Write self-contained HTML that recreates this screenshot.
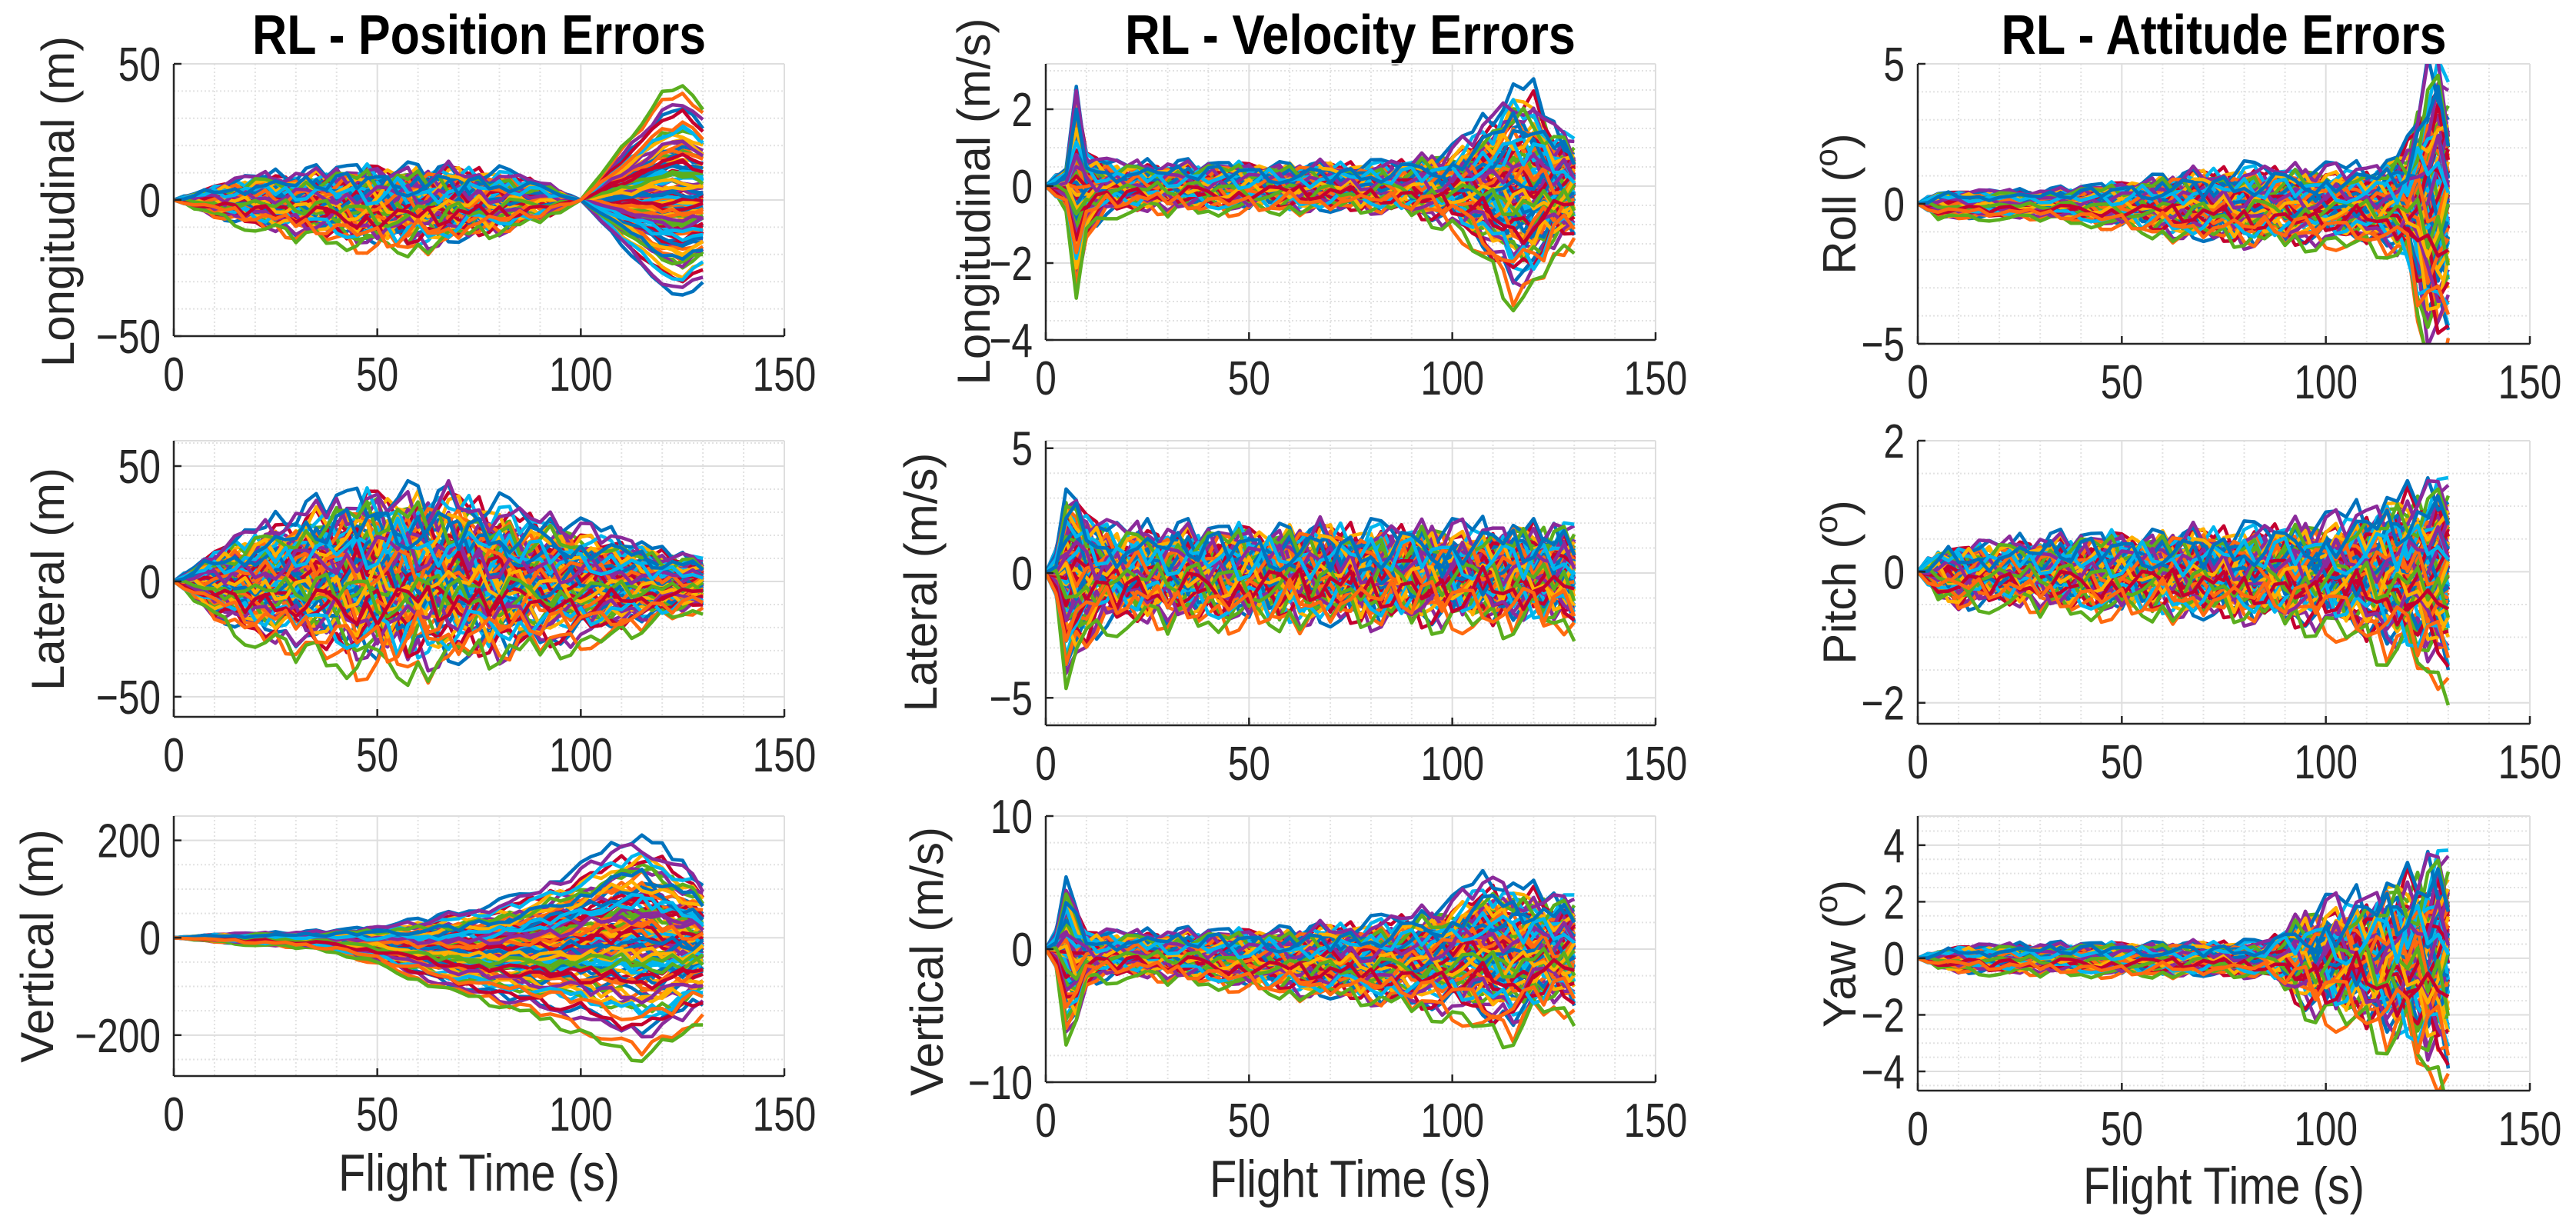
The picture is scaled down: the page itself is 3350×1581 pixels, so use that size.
<!DOCTYPE html>
<html><head><meta charset="utf-8"><title>RL Errors</title>
<style>
html,body{margin:0;padding:0;background:#fff;}
svg{display:block;}
text{font-family:"Liberation Sans",Arial,sans-serif;fill:#262626;}
</style></head>
<body>
<svg id="fig" xmlns="http://www.w3.org/2000/svg" width="3350" height="1581" viewBox="0 0 3350 1581">
<rect x="0" y="0" width="3350" height="1581" fill="#fff"/>
<defs id="defs"></defs>
<text x="623" y="70" text-anchor="middle" font-size="72" font-weight="bold" textLength="590" lengthAdjust="spacingAndGlyphs" style="fill:#000">RL - Position Errors</text>
<text x="1756" y="70" text-anchor="middle" font-size="72" font-weight="bold" textLength="586" lengthAdjust="spacingAndGlyphs" style="fill:#000">RL - Velocity Errors</text>
<text x="2892" y="70" text-anchor="middle" font-size="72" font-weight="bold" textLength="579" lengthAdjust="spacingAndGlyphs" style="fill:#000">RL - Attitude Errors</text>
<text x="623" y="1548" text-anchor="middle" font-size="68" textLength="366" lengthAdjust="spacingAndGlyphs">Flight Time (s)</text>
<text x="1756" y="1556" text-anchor="middle" font-size="68" textLength="366" lengthAdjust="spacingAndGlyphs">Flight Time (s)</text>
<text x="2892" y="1565" text-anchor="middle" font-size="68" textLength="366" lengthAdjust="spacingAndGlyphs">Flight Time (s)</text>
<g id="plots"></g>
</svg>
<script>
// ---- shared data ----
const xTicks = [0, 50, 100, 150];
const memberWeights = [0,0.15,-0.2,0.35,-0.4,0.55,-0.6,0.7,-0.8,0.9,-1.0,1.1,-1.2,1.35,-1.5,0.05,-0.1,0.25,-0.3,0.45,-0.5,0.8,-0.9,1.25,-1.6];
const memberScales = [1, 0.55, 1.2, 0.8];
const jitterTable = [0.3,-0.8,0.5,0.1,-0.4,0.9,-0.2,-0.7,0.6,0.0,-0.5,0.8,-0.9,0.2,0.4,-0.3,0.7,-0.6,0.1,-1.0,0.5,0.3,-0.1,0.9,-0.8,0.2,-0.4,0.6,-0.2,0.0,0.8,-0.7,0.4,-0.5,1.0,-0.3,0.2,-0.9,0.7,-0.1,0.5,-0.6,0.3,0.9,-0.2,-0.8,0.1,0.6,-0.4,0.0,-0.7,0.8,-0.5,0.4,-0.9,0.2,0.7,-0.3,0.5,-0.1,0.3];
const colors = ["#0072BD","#FF6A0F","#FFB000","#8B2A9B","#5AAE1E","#00B6EE","#C4002F"];

// ---- per-plot series (knot times, mean, spread, jitter amplitude) ----
const posLonT = [0,10,20,30,40,50,60,70,80,90,100,110,120,125,130];
const posLonMid = [0,0,0,-1,-1,-2,-2,-1,0,0,0,0,0,0,0];
const posLonSpread = [0,3,5,6,7,8,8,7,6,4,0,-10,-20,-22,-18];
const posLonNoise = [0,2,3,3.5,4,5,5,4.5,3.5,2,0,1,1.5,1.5,1.5];

const posLatT = [0,10,20,30,40,50,60,70,80,90,100,110,120,130];
const posLatMid = [0,0,0,2,3,3,3,3,2,1,0,0,-1,0];
const posLatSpread = [0,8,13,16,19,21,21,20,18,16,14,11,8,6];
const posLatNoise = [0,4,6,7,9,11,11,10,9,7,6,5,4,3];

const posVerT = [0,10,20,30,40,50,60,70,80,90,100,110,115,120,130];
const posVerMid = [0,0,-2,-3,-6,-12,-20,-25,-25,-20,-10,0,0,-5,-10];
const posVerSpread = [0,4,6,8,12,22,35,48,60,75,95,120,125,115,80];
const posVerNoise = [0,3,4,4,5,6,8,9,10,12,14,16,17,17,17];

const velLonT = [0,5,7.5,10,15,20,40,60,80,90,100,110,115,120,125,130];
const velLonMid = [0,0,0,-0.1,0,0,0,0,0,0,0,0,0,0,0,0];
const velLonSpread = [0,0.3,1.6,0.6,0.35,0.3,0.3,0.3,0.3,0.35,0.5,1.1,1.5,1.5,0.9,0.7];
const velLonNoise = [0,0.2,0.4,0.3,0.25,0.25,0.25,0.25,0.25,0.3,0.35,0.4,0.45,0.45,0.45,0.45];

const velLatT = [0,2.5,5,7.5,10,15,20,40,60,80,100,120,130];
const velLatMid = [0,0,0,0,0,0,0,0,0,0,0,0,0];
const velLatSpread = [0,0.5,2.2,1.8,1.4,1.0,0.9,0.9,0.9,0.9,0.9,0.9,1.0];
const velLatNoise = [0,0.3,1.0,1.0,0.9,0.8,0.8,0.8,0.9,0.9,0.9,0.9,0.9];

const velVerT = [0,2.5,5,7.5,10,20,40,60,80,100,105,110,115,120,125,130];
const velVerMid = [0,0,0,-1,-0.5,-0.3,-0.5,-0.8,-0.8,-0.5,0,0,-0.5,0,0,0];
const velVerSpread = [0,0.8,3.5,2.5,1.0,0.8,1.0,1.3,1.6,2.3,2.8,3.2,3.0,2.6,2.2,2.4];
const velVerNoise = [0,0.4,1.2,1.2,0.8,0.6,0.7,0.8,0.9,1.0,1.1,1.2,1.2,1.2,1.3,1.3];

const rollT = [0,5,10,30,50,60,80,100,110,115,120,122.5,125,127.5,130];
const rollMid = [0,0,0,0,0,0,0,0,0,0,0,0,0,0,0];
const rollSpread = [0,0.25,0.25,0.25,0.4,0.55,0.7,0.7,0.7,0.8,1.1,2.0,2.8,3.0,2.5];
const rollNoise = [0,0.2,0.15,0.15,0.3,0.4,0.5,0.45,0.45,0.5,0.8,1.2,1.5,1.5,1.5];

const pitchT = [0,5,10,20,40,60,80,100,110,120,130];
const pitchMid = [0,0,-0.05,0,0,0,0,0,0,0,0];
const pitchSpread = [0,0.18,0.22,0.22,0.28,0.3,0.33,0.4,0.5,0.65,0.85];
const pitchNoise = [0,0.2,0.22,0.22,0.25,0.28,0.3,0.33,0.38,0.42,0.45];

const yawT = [0,5,10,30,50,70,85,90,95,100,110,120,125,130];
const yawMid = [0,0,0,0,0,0,0,0,0,0,0,0,0,0];
const yawSpread = [0,0.15,0.22,0.25,0.28,0.28,0.3,0.5,0.8,0.95,1.1,1.5,1.9,2.1];
const yawNoise = [0,0.15,0.2,0.2,0.22,0.24,0.25,0.5,0.8,0.9,1.0,1.2,1.4,1.5];

// tick labels
const yTicksPosLon = [-50,0,50];
const yTicksPosLat = [-50,0,50];
const yTicksPosVer = [-200,0,200];
const yTicksVelLon = [-4,-2,0,2];
const yTicksVelLat = [-5,0,5];
const yTicksVelVer = [-10,0,10];
const yTicksRoll = [-5,0,5];
const yTicksPitch = [-2,0,2];
const yTicksYaw = [-4,-2,0,2,4];

// ---- layout ----
const panels = [
 {name:'position-longitudinal', x0:226,x1:1020,y0:83,y1:437, ylim:[-50,50], minor:10, ticks:yTicksPosLon, T:posLonT, mid:posLonMid, spread:posLonSpread, noise:posLonNoise, label:'Longitudinal (m)', lx:96, ly:262},
 {name:'position-lateral', x0:226,x1:1020,y0:573,y1:932, ylim:[-58.7,61], minor:10, ticks:yTicksPosLat, T:posLatT, mid:posLatMid, spread:posLatSpread, noise:posLatNoise, label:'Lateral (m)', lx:83, ly:753},
 {name:'position-vertical', x0:226,x1:1020,y0:1061,y1:1399, ylim:[-284,250], minor:50, ticks:yTicksPosVer, T:posVerT, mid:posVerMid, spread:posVerSpread, noise:posVerNoise, label:'Vertical (m)', lx:69, ly:1230},
 {name:'velocity-longitudinal', x0:1360,x1:2153,y0:83,y1:442, ylim:[-4,3.18], minor:0.5, ticks:yTicksVelLon, T:velLonT, mid:velLonMid, spread:velLonSpread, noise:velLonNoise, label:'Longitudinal (m/s)', lx:1287, ly:262},
 {name:'velocity-lateral', x0:1360,x1:2153,y0:573,y1:943, ylim:[-6.1,5.3], minor:1, ticks:yTicksVelLat, T:velLatT, mid:velLatMid, spread:velLatSpread, noise:velLatNoise, label:'Lateral (m/s)', lx:1218, ly:757},
 {name:'velocity-vertical', x0:1360,x1:2153,y0:1061,y1:1407, ylim:[-10,10], minor:2, ticks:yTicksVelVer, T:velVerT, mid:velVerMid, spread:velVerSpread, noise:velVerNoise, label:'Vertical (m/s)', lx:1226, ly:1250},
 {name:'attitude-roll', x0:2494,x1:3290,y0:83,y1:447, ylim:[-5,5], minor:1, ticks:yTicksRoll, T:rollT, mid:rollMid, spread:rollSpread, noise:rollNoise, label:'Roll', lx:2413, ly:265},
 {name:'attitude-pitch', x0:2494,x1:3290,y0:573,y1:941, ylim:[-2.32,2], minor:0.5, ticks:yTicksPitch, T:pitchT, mid:pitchMid, spread:pitchSpread, noise:pitchNoise, label:'Pitch', lx:2413, ly:757},
 {name:'attitude-yaw', x0:2494,x1:3290,y0:1061,y1:1418, ylim:[-4.68,5.03], minor:0.5, ticks:yTicksYaw, T:yawT, mid:yawMid, spread:yawSpread, noise:yawNoise, label:'Yaw', lx:2413, ly:1240}
];

const NS = 'http://www.w3.org/2000/svg';
function mk(tag, attrs, parent){ const e=document.createElementNS(NS,tag); for(const k in attrs) e.setAttribute(k,attrs[k]); parent.appendChild(e); return e; }
function interp(T, V, t){
  if (t<=T[0]) return V[0];
  for (let i=1;i<T.length;i++){ if (t<=T[i]){ const f=(t-T[i-1])/(T[i]-T[i-1]); return V[i-1]+f*(V[i]-V[i-1]); } }
  return V[V.length-1];
}
function fmt(v){ return (v<0?'\u2212':'')+Math.abs(v); }
const TICKFS = 62;
function tickLen(s){ let n=0; for (const c of s) n += (c==='\u2212'?0.584:0.556); return n*TICKFS*0.8; }

const root = document.getElementById('plots');
const defs = document.getElementById('defs');
const NMEM = 100, DT = 2.5, TEND = 130;

panels.forEach((p, pi) => {
  const g = mk('g', {}, root);
  
  
  const sx = t => p.x0 + (t-0)/(150-0)*(p.x1-p.x0);
  const sy = v => p.y1 - (v-p.ylim[0])/(p.ylim[1]-p.ylim[0])*(p.y1-p.y0);
  for (let t=10; t<150; t+=10){ if (t%50===0) continue;
    const l = mk('line',{x1:sx(t),x2:sx(t),y1:p.y0,y2:p.y1,stroke:'#e2e2e2','stroke-width':2,'stroke-dasharray':'2 3'},g);
    
    
  }
  const ystart = Math.ceil(p.ylim[0]/p.minor)*p.minor;
  for (let v=ystart; v<=p.ylim[1]+1e-9; v+=p.minor){
    if (p.ticks.some(tk=>Math.abs(tk-v)<1e-9)) continue;
    const l = mk('line',{x1:p.x0,x2:p.x1,y1:sy(v),y2:sy(v),stroke:'#e2e2e2','stroke-width':2,'stroke-dasharray':'2 3'},g);
    
    
  }
  xTicks.forEach(t => {
    const l = mk('line',{x1:sx(t),x2:sx(t),y1:p.y0,y2:p.y1,stroke:'#dedede','stroke-width':2},g);
    
    
  });
  p.ticks.forEach(v => {
    const l = mk('line',{x1:p.x0,x2:p.x1,y1:sy(v),y2:sy(v),stroke:'#dedede','stroke-width':2},g);
    
    
  });
  const topl = mk('line',{x1:p.x0,x2:p.x1,y1:p.y0,y2:p.y0,stroke:'#dedede','stroke-width':2},g);
  
  
  const cp = mk('clipPath',{id:'clip'+pi},defs);
  mk('rect',{x:p.x0,y:p.y0,width:p.x1-p.x0,height:p.y1-p.y0},cp);
  const lines = mk('g',{'clip-path':'url(#clip'+pi+')',fill:'none','stroke-width':4.5,'stroke-linejoin':'round'},g);
  
  
  for (let k=0;k<NMEM;k++){
    const w = memberWeights[k%memberWeights.length]*memberScales[Math.floor(k/25)%memberScales.length];
    let d='';
    let i=0;
    for (let t=0; t<=TEND+1e-9; t+=DT, i++){
      const j = jitterTable[(k*17+i*5)%jitterTable.length];
      const v = interp(p.T,p.mid,t) + w*interp(p.T,p.spread,t) + j*interp(p.T,p.noise,t);
      d += (i===0?'M':'L') + sx(t).toFixed(1) + ',' + sy(v).toFixed(1);
    }
    const path = mk('path',{d:d,stroke:colors[k%colors.length]},lines);
    
    
  }
  const xa = mk('line',{x1:p.x0,x2:p.x1,y1:p.y1,y2:p.y1,stroke:'#262626','stroke-width':2.5},g);
  
  
  const ya = mk('line',{x1:p.x0,x2:p.x0,y1:p.y0,y2:p.y1,stroke:'#262626','stroke-width':2.5},g);
  
  
  xTicks.forEach(t => {
    const tk = mk('line',{x1:sx(t),x2:sx(t),y1:p.y1,y2:p.y1-10,stroke:'#262626','stroke-width':2.5},g);
    
    
    const s = fmt(t);
    const tx = mk('text',{x:sx(t),y:p.y1+71,'text-anchor':'middle','font-size':TICKFS,textLength:tickLen(s).toFixed(1),lengthAdjust:'spacingAndGlyphs'},g);
    tx.textContent = s;
    
    
  });
  p.ticks.forEach(v => {
    const tk = mk('line',{x1:p.x0,x2:p.x0+10,y1:sy(v),y2:sy(v),stroke:'#262626','stroke-width':2.5},g);
    
    
    const s = fmt(v);
    const tx = mk('text',{x:p.x0-17,y:sy(v)+22,'text-anchor':'end','font-size':TICKFS,textLength:tickLen(s).toFixed(1),lengthAdjust:'spacingAndGlyphs'},g);
    tx.textContent = s;
    
    
  });
  const yl = mk('text',{x:p.lx,y:p.ly,'text-anchor':'middle','font-size':60,transform:'rotate(-90 '+p.lx+' '+p.ly+')'},g);
  
  
  if (p.name.indexOf('attitude')===0){
    yl.appendChild(document.createTextNode(p.label+' ('));
    const sup = mk('tspan',{dy:-24,'font-size':42},yl);
    sup.textContent='o';
    const cl = mk('tspan',{dy:24},yl);
    cl.textContent=')';
  } else {
    yl.textContent = p.label;
  }
});
</script>
</body></html>
